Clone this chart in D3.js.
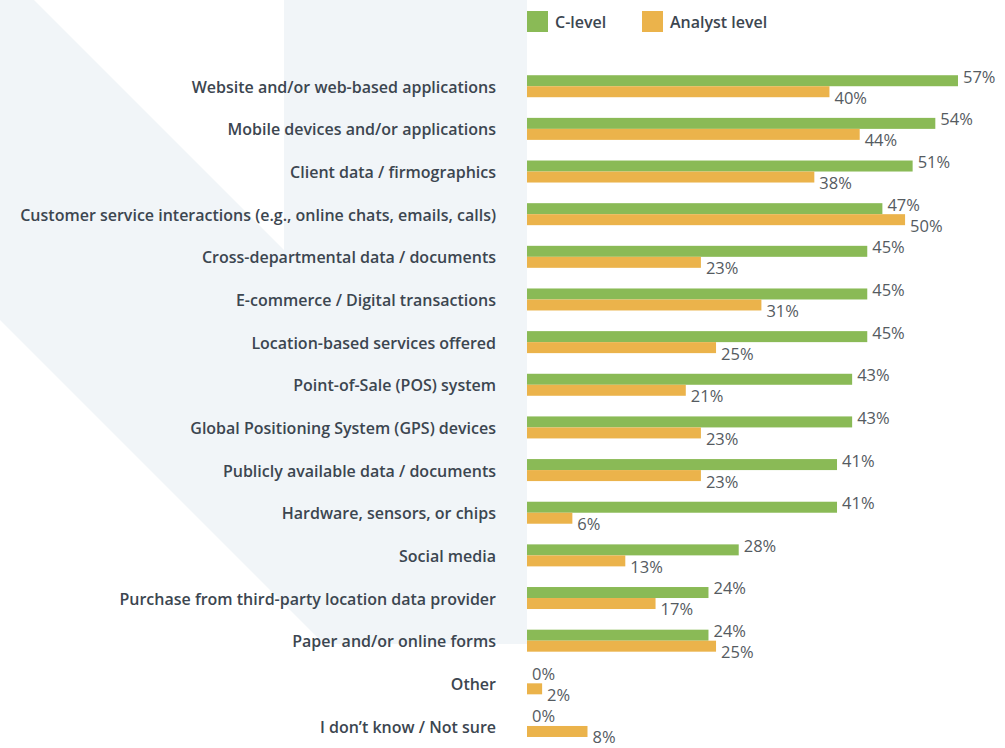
<!DOCTYPE html>
<html><head><meta charset="utf-8">
<script src="https://cdn.jsdelivr.net/npm/d3@7"></script>
<style>
html,body{margin:0;padding:0;background:#fff;}
svg{display:block;font-family:"Open Sans",sans-serif;}
</style></head>
<body>
<svg id="chart" width="1005" height="748"></svg>
<script>
const categories = [
  "Website and/or web-based applications",
  "Mobile devices and/or applications",
  "Client data / firmographics",
  "Customer service interactions (e.g., online chats, emails, calls)",
  "Cross-departmental data / documents",
  "E-commerce / Digital transactions",
  "Location-based services offered",
  "Point-of-Sale (POS) system",
  "Global Positioning System (GPS) devices",
  "Publicly available data / documents",
  "Hardware, sensors, or chips",
  "Social media",
  "Purchase from third-party location data provider",
  "Paper and/or online forms",
  "Other",
  "I don\u2019t know / Not sure"
];
const cLevel  = [57, 54, 51, 47, 45, 45, 45, 43, 43, 41, 41, 28, 24, 24, 0, 0];
const analyst = [40, 44, 38, 50, 23, 31, 25, 21, 23, 23, 6, 13, 17, 25, 2, 8];
const seriesNames = ["C-level", "Analyst level"];
const seriesColors = ["#8aba56", "#ebb34b"];

const svg = d3.select("#chart");

// background decoration
svg.append("path")
  .attr("d", "M0,0 L34,0 L284,250 L284,0 L527,0 L527,644 L324,644 L0,320 Z")
  .attr("fill", "#f1f5f8");

const x = d3.scaleLinear().domain([0, 57]).range([527, 958]);
const y = d3.scaleBand().domain(categories).range([64.9, 64.9 + 42.65 * categories.length]);
const barH = 11;

// category labels
svg.append("g").selectAll("text").data(categories).join("text")
  .attr("x", 496)
  .attr("y", d => y(d) + y.bandwidth() / 2 + 1)
  .attr("dy", "0.35em")
  .attr("text-anchor", "end")
  .attr("font-size", 16)
  .attr("font-weight", 600)
  .attr("fill", "#3c4650")
  .text(d => d);

const rows = categories.map((c, i) => ({c, v: [cLevel[i], analyst[i]]}));

const g = svg.append("g");
rows.forEach(r => {
  const cy = y(r.c) + y.bandwidth() / 2;
  r.v.forEach((v, s) => {
    const top = s === 0 ? cy - barH : cy;
    if (v > 0) {
      g.append("rect")
        .attr("x", x(0)).attr("y", top)
        .attr("width", x(v) - x(0)).attr("height", barH)
        .attr("fill", seriesColors[s]);
    }
    g.append("text")
      .attr("x", x(v) + 5)
      .attr("y", s === 0 ? cy - 9.5 : cy + 11.5)
      .attr("dy", "0.36em")
      .attr("font-size", 16.5)
      .attr("fill", "#555b61")
      .text(v + "%");
  });
});

// legend
const legX = [527, 642];
seriesNames.forEach((n, i) => {
  svg.append("rect").attr("x", legX[i]).attr("y", 11).attr("width", 21).attr("height", 21)
    .attr("fill", seriesColors[i]);
  svg.append("text").attr("x", legX[i] + 28).attr("y", 22).attr("dy", "0.36em")
    .attr("font-size", 16).attr("font-weight", 600).attr("fill", "#3c4650").text(n);
});
</script>
</body></html>
